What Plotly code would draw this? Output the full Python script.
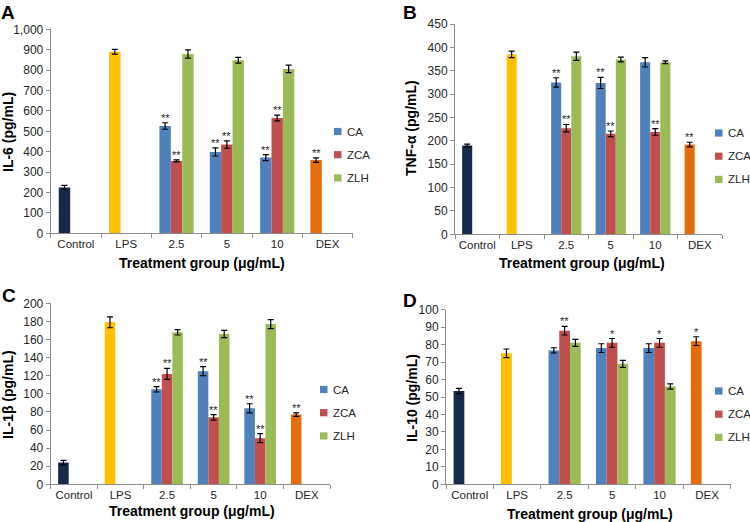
import plotly.graph_objects as go

# ---------------- data ----------------
categories = ["Control", "LPS", "2.5", "5", "10", "DEX"]
ref_cats = ["Control", "LPS", "DEX"]
dose_cats = ["2.5", "5", "10"]
series_names = ["CA", "ZCA", "ZLH"]

# Panel A: IL-6 (pg/mL)
il6_ref = [225, 890, 359]
il6_ref_err = [10, 12, 11]
il6_ca = [526, 399, 371]
il6_ca_err = [16, 20, 15]
il6_zca = [355, 435, 565]
il6_zca_err = [5, 18, 14]
il6_zlh = [879, 848, 806]
il6_zlh_err = [20, 14, 18]
il6_ref_sig = ["", "", "**"]
il6_ca_sig = ["**", "**", "**"]
il6_zca_sig = ["**", "**", "**"]
il6_zlh_sig = ["", "", ""]

# Panel B: TNF-α (pg/mL)
tnf_ref = [190, 385, 192]
tnf_ref_err = [3, 7, 5]
tnf_ca = [325, 324, 368]
tnf_ca_err = [10, 12, 10]
tnf_zca = [227, 215, 219]
tnf_zca_err = [8, 6, 7]
tnf_zlh = [381, 374, 368]
tnf_zlh_err = [9, 5, 3]
tnf_ref_sig = ["", "", "**"]
tnf_ca_sig = ["**", "**", ""]
tnf_zca_sig = ["**", "**", "**"]
tnf_zlh_sig = ["", "", ""]

# Panel C: IL-1β (pg/mL)
il1b_ref = [24, 179, 77]
il1b_ref_err = [2.5, 6, 2]
il1b_ca = [105, 125, 84]
il1b_ca_err = [3, 5, 5]
il1b_zca = [122, 74, 51]
il1b_zca_err = [6, 3, 5]
il1b_zlh = [168, 166, 177]
il1b_zlh_err = [3, 4, 5]
il1b_ref_sig = ["", "", "**"]
il1b_ca_sig = ["**", "**", "**"]
il1b_zca_sig = ["**", "**", "**"]
il1b_zlh_sig = ["", "", ""]

# Panel D: IL-10 (pg/mL)
il10_ref = [53.4, 75, 82]
il10_ref_err = [1.5, 2.5, 2.5]
il10_ca = [76.7, 78, 78]
il10_ca_err = [1.5, 2.5, 2.5]
il10_zca = [88, 81, 81]
il10_zca_err = [2.5, 2.5, 2.5]
il10_zlh = [81, 69, 56]
il10_zlh_err = [2, 2, 1.5]
il10_ref_sig = ["", "", "*"]
il10_ca_sig = ["", "", ""]
il10_zca_sig = ["**", "*", "*"]
il10_zlh_sig = ["", "", ""]

y_titles = ["IL-6 (pg/mL)", "TNF-α (pg/mL)", "IL-1β (pg/mL)", "IL-10 (pg/mL)"]
panel_letters = ["A", "B", "C", "D"]
x_title = "Treatment group (μg/mL)"
y_max = [1000, 450, 200, 100]
y_dtick = [100, 50, 20, 10]

# ---------------- style ----------------
W, H = 750, 522
FONT = "Liberation Sans, Arial, sans-serif"
ref_colors = ["#172A4B", "#FFC000", "#E46C0A"]
series_colors = ["#4F81BD", "#C0504D", "#9BBB59"]
AXIS_COLOR = "#8C8C8C"
TEXT_COLOR = "#262626"
BARGAP = 0.32

# pixel geometry of each panel: (x0, x1, y_top, y_zero)
geom = [
    (50.7, 352.7, 29.3, 233.3),
    (455.0, 722.0, 24.0, 234.3),
    (50.7, 330.0, 303.3, 484.3),
    (446.0, 730.7, 309.7, 484.3),
]
# label positions in pixels (letters: top-anchored for A/B, centred for C/D)
letter_pos = [(8, 0, "top"), (410, 0, "top"), (8.5, 295.5, "middle"), (410, 300, "middle")]
ytitle_pos = [(8, 132), (411, 128), (8, 395), (412, 398)]
xtitle_pos = [(202, 263), (582, 263), (192, 511), (590, 514)]
legend_pos = [(334, 131.5), (715, 133), (320, 389.5), (715, 391)]  # square left, first row centre
legend_step = 23.2
legend_text_dx = 10.5

panels = [
    (il6_ref, il6_ref_err, il6_ref_sig,
     [(il6_ca, il6_ca_err, il6_ca_sig), (il6_zca, il6_zca_err, il6_zca_sig), (il6_zlh, il6_zlh_err, il6_zlh_sig)]),
    (tnf_ref, tnf_ref_err, tnf_ref_sig,
     [(tnf_ca, tnf_ca_err, tnf_ca_sig), (tnf_zca, tnf_zca_err, tnf_zca_sig), (tnf_zlh, tnf_zlh_err, tnf_zlh_sig)]),
    (il1b_ref, il1b_ref_err, il1b_ref_sig,
     [(il1b_ca, il1b_ca_err, il1b_ca_sig), (il1b_zca, il1b_zca_err, il1b_zca_sig), (il1b_zlh, il1b_zlh_err, il1b_zlh_sig)]),
    (il10_ref, il10_ref_err, il10_ref_sig,
     [(il10_ca, il10_ca_err, il10_ca_sig), (il10_zca, il10_zca_err, il10_zca_sig), (il10_zlh, il10_zlh_err, il10_zlh_sig)]),
]


def px(x):
    return x / W


def py(y):
    return 1 - y / H


err_style = dict(type="data", color="#000000", thickness=1.2, width=3, visible=True)

fig = go.Figure()
annotations = []
shapes = []
layout_axes = {}
slot_w = (1 - BARGAP) / 3

for i, (ref_v, ref_e, ref_s, dose_series) in enumerate(panels):
    n = "" if i == 0 else str(i + 1)
    xa, ya = "x" + n, "y" + n
    # reference groups (Control, LPS, DEX) sit in the first slot
    fig.add_trace(go.Bar(
        x=ref_cats, y=ref_v, xaxis=xa, yaxis=ya, offsetgroup="a", alignmentgroup="g" + n,
        marker=dict(color=ref_colors, line=dict(width=0)),
        error_y=dict(array=ref_e, **err_style), showlegend=False, name="reference"))
    for k, (vals, errs, sigs) in enumerate(dose_series):
        fig.add_trace(go.Bar(
            x=dose_cats, y=vals, xaxis=xa, yaxis=ya, offsetgroup="abc"[k], alignmentgroup="g" + n,
            marker=dict(color=series_colors[k], line=dict(width=0)),
            error_y=dict(array=errs, **err_style), showlegend=False, name=series_names[k]))
    # significance markers
    sig_sets = [(ref_cats, ref_v, ref_e, ref_s, -1)] + [
        (dose_cats, v, e, s, k - 1) for k, (v, e, s) in enumerate(dose_series)]
    for cats, vals, errs, sigs, slot in sig_sets:
        for c, v, e, s in zip(cats, vals, errs, sigs):
            if s:
                annotations.append(dict(
                    x=categories.index(c) + slot * slot_w, y=v + e, xref=xa, yref=ya,
                    text=s, showarrow=False, yanchor="bottom", xanchor="center", yshift=-3,
                    font=dict(family=FONT, size=11, color=TEXT_COLOR)))
    x0, x1, yt, yz = geom[i]
    layout_axes["xaxis" + n] = dict(
        domain=[px(x0), px(x1)], anchor=ya, type="category",
        categoryorder="array", categoryarray=categories, range=[-0.5, 5.5],
        showline=True, linecolor=AXIS_COLOR, linewidth=1,
        ticks="outside", tickson="boundaries", ticklen=4, tickcolor=AXIS_COLOR,
        tickangle=0, automargin=False,
        tickfont=dict(family=FONT, size=11.5, color=TEXT_COLOR),
        showgrid=False, zeroline=False, fixedrange=True)
    layout_axes["yaxis" + n] = dict(
        domain=[py(yz), py(yt)], anchor=xa, range=[0, y_max[i]], dtick=y_dtick[i],
        tickformat=",d", showline=True, linecolor=AXIS_COLOR, linewidth=1,
        ticks="outside", ticklen=4, tickcolor=AXIS_COLOR, automargin=False,
        tickfont=dict(family=FONT, size=12, color=TEXT_COLOR),
        showgrid=False, zeroline=False, fixedrange=True)

    # panel letter
    lx, ly, lanchor = letter_pos[i]
    annotations.append(dict(x=px(lx), y=py(ly), xref="paper", yref="paper", text="<b>%s</b>" % panel_letters[i],
                            showarrow=False, xanchor="center", yanchor=lanchor,
                            font=dict(family=FONT, size=19, color="#000000")))
    # y title
    tx, ty = ytitle_pos[i]
    annotations.append(dict(x=px(tx), y=py(ty), xref="paper", yref="paper", text="<b>%s</b>" % y_titles[i],
                            showarrow=False, textangle=-90, xanchor="center", yanchor="middle",
                            font=dict(family=FONT, size=14, color="#000000")))
    # x title
    tx, ty = xtitle_pos[i]
    annotations.append(dict(x=px(tx), y=py(ty), xref="paper", yref="paper", text="<b>%s</b>" % x_title,
                            showarrow=False, xanchor="center", yanchor="middle",
                            font=dict(family=FONT, size=14, color="#000000")))
    # legend (square swatch + label)
    lgx, lgy = legend_pos[i]
    for k, name in enumerate(series_names):
        cy = lgy + k * legend_step
        shapes.append(dict(type="rect", xref="paper", yref="paper",
                           x0=px(lgx), x1=px(lgx + 7.5), y0=py(cy + 3.6), y1=py(cy - 3.6),
                           fillcolor=series_colors[k], line=dict(width=0)))
        annotations.append(dict(x=px(lgx + legend_text_dx), y=py(cy), xref="paper", yref="paper",
                                text=name, showarrow=False, xanchor="left", yanchor="middle",
                                font=dict(family=FONT, size=11.5, color=TEXT_COLOR)))

fig.update_layout(
    width=W, height=H, autosize=False,
    margin=dict(l=0, r=0, t=0, b=0, autoexpand=False),
    paper_bgcolor="white", plot_bgcolor="white",
    barmode="group", bargap=BARGAP, bargroupgap=0,
    showlegend=False,
    font=dict(family=FONT, size=12, color=TEXT_COLOR),
    annotations=annotations, shapes=shapes,
    **layout_axes)

fig.write_html("out.html",
               config={"displayModeBar": False},
               post_script="document.body.style.margin='0px';document.body.style.overflow='hidden';")
